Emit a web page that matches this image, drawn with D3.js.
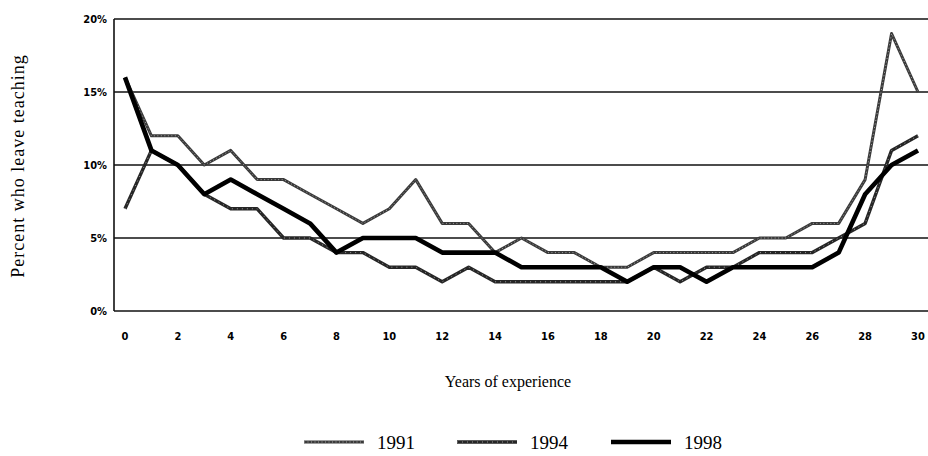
<!DOCTYPE html>
<html>
<head>
<meta charset="utf-8">
<script src="https://cdnjs.cloudflare.com/ajax/libs/d3/7.8.5/d3.min.js"></script>
<style>
  body { margin: 0; background: #fff; }
  svg { display: block; }
</style>
</head>
<body>
<div id="chart"></div>
<script>
var width = 928, height = 456;

// years of experience 0..30
var years = d3.range(0, 31);
var yTicks = [0, 5, 10, 15, 20];
var xTicks = d3.range(0, 31, 2);

var rate1991 = [16, 12, 12, 10, 11, 9, 9, 8, 7, 6, 7, 9, 6, 6, 4, 5, 4, 4, 3, 3, 4, 4, 4, 4, 5, 5, 6, 6, 9, 19, 15];
var rate1994 = [7, 11, 10, 8, 7, 7, 5, 5, 4, 4, 3, 3, 2, 3, 2, 2, 2, 2, 2, 2, 3, 2, 3, 3, 4, 4, 4, 5, 6, 11, 12];
var rate1998 = [16, 11, 10, 8, 9, 8, 7, 6, 4, 5, 5, 5, 4, 4, 4, 3, 3, 3, 3, 2, 3, 3, 2, 3, 3, 3, 3, 4, 8, 10, 11];

var seriesNames = ["1991", "1994", "1998"];
var seriesData = [rate1991, rate1994, rate1998];

var margin = {left: 114, top: 19, right: 0, bottom: 145};

var svg = d3.select("#chart")
    .append("svg")
    .attr("width", width)
    .attr("height", height);

var x = d3.scaleLinear().domain([0, 30]).range([125, 918]);
var y = d3.scaleLinear().domain([0, 20]).range([311, 19]);

// horizontal gridlines
svg.append("g").selectAll("line")
    .data(yTicks)
    .enter()
    .append("line")
    .attr("x1", margin.left)
    .attr("x2", width)
    .attr("y1", function(d) { return y(d); })
    .attr("y2", function(d) { return y(d); })
    .attr("stroke", "#111")
    .attr("stroke-width", 1.6);

// left axis line
svg.append("line")
    .attr("x1", margin.left).attr("x2", margin.left)
    .attr("y1", y(20)).attr("y2", y(0))
    .attr("stroke", "#111")
    .attr("stroke-width", 1.6);

// y tick labels
svg.append("g").selectAll("text")
    .data(yTicks)
    .enter()
    .append("text")
    .attr("x", 107)
    .attr("y", function(d) { return y(d) + 4; })
    .style("text-anchor", "end")
    .style("font-family", "'DejaVu Sans Condensed', 'DejaVu Sans', sans-serif")
    .style("font-weight", "bold")
    .style("font-size", "11px")
    .text(function(d) { return d + "%"; });

// x tick labels
svg.append("g").selectAll("text")
    .data(xTicks)
    .enter()
    .append("text")
    .attr("x", function(d) { return x(d); })
    .attr("y", 340)
    .style("text-anchor", "middle")
    .style("font-family", "'DejaVu Sans Condensed', 'DejaVu Sans', sans-serif")
    .style("font-weight", "bold")
    .style("font-size", "11px")
    .text(function(d) { return d; });

// axis titles
svg.append("text")
    .attr("transform", "translate(24, 166) rotate(-90)")
    .style("text-anchor", "middle")
    .style("font-family", "'Liberation Serif', serif")
    .style("font-size", "18px")
    .style("letter-spacing", "1px")
    .text("Percent who leave teaching");

svg.append("text")
    .attr("x", 508)
    .attr("y", 387)
    .style("text-anchor", "middle")
    .style("font-family", "'Liberation Serif', serif")
    .style("font-size", "16px")
    .text("Years of experience");

var styles = [
  {color: "#3a3a3a", width: 3, dots: "1,2.5"},
  {color: "#262626", width: 3.4, dots: "1,4"},
  {color: "#000", width: 4.6, dots: null}
];

var line = d3.line()
    .x(function(d, i) { return x(years[i]); })
    .y(function(d) { return y(d); });

seriesData.forEach(function(vals, k) {
  var s = styles[k];
  svg.append("path")
      .datum(vals)
      .attr("d", line)
      .attr("fill", "none")
      .attr("stroke", s.color)
      .attr("stroke-width", s.width)
      .attr("stroke-linejoin", "round");
  if (s.dots) {
    svg.append("path")
        .datum(vals)
        .attr("d", line)
        .attr("fill", "none")
        .attr("stroke", "#fff")
        .attr("stroke-opacity", 0.6)
        .attr("stroke-width", 0.9)
        .attr("stroke-dasharray", s.dots);
  }
});

// legend
var legendX = [304, 457, 611];
var legend = svg.append("g").selectAll("g")
    .data(seriesNames)
    .enter()
    .append("g")
    .attr("transform", function(d, i) { return "translate(" + legendX[i] + ", 442)"; });

legend.append("line")
    .attr("x1", 0).attr("x2", 60)
    .attr("y1", 0).attr("y2", 0)
    .attr("stroke", function(d, i) { return styles[i].color; })
    .attr("stroke-width", function(d, i) { return styles[i].width; });

legend.filter(function(d, i) { return styles[i].dots; })
    .append("line")
    .attr("x1", 0).attr("x2", 60)
    .attr("y1", 0).attr("y2", 0)
    .attr("stroke", "#fff")
    .attr("stroke-opacity", 0.6)
    .attr("stroke-width", 0.9)
    .attr("stroke-dasharray", function(d, i) { return i === 0 ? styles[0].dots : styles[1].dots; });

legend.append("text")
    .attr("x", 73)
    .attr("y", 7)
    .style("font-family", "'Liberation Serif', serif")
    .style("font-size", "19px")
    .text(function(d) { return d; });
</script>
</body>
</html>
